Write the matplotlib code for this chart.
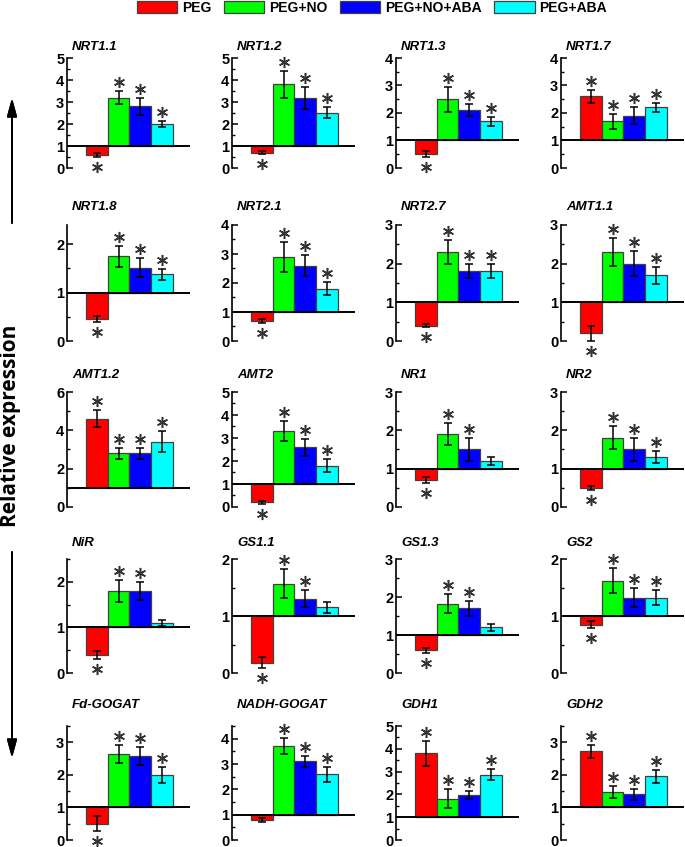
import numpy as np
import matplotlib as mpl
mpl.use('agg')
import matplotlib.pyplot as plt
import matplotlib.transforms as mtransforms
from matplotlib.ticker import MultipleLocator

plt.rcParams['font.family'] = ['Liberation Sans', 'DejaVu Sans']

genes = ['NRT1.1', 'NRT1.2', 'NRT1.3', 'NRT1.7',
         'NRT1.8', 'NRT2.1', 'NRT2.7', 'AMT1.1',
         'AMT1.2', 'AMT2', 'NR1', 'NR2',
         'NiR', 'GS1.1', 'GS1.3', 'GS2',
         'Fd-GOGAT', 'NADH-GOGAT', 'GDH1', 'GDH2']
treatments = ['PEG', 'PEG+NO', 'PEG+NO+ABA', 'PEG+ABA']

peg = [0.6, 0.7, 0.5, 2.6, 0.45, 0.7, 0.4, 0.2, 4.6, 0.2, 0.7, 0.5, 0.4, 0.18, 0.6, 0.85, 0.5, 0.8, 3.8, 2.72]
peg_err = [0.1, 0.07, 0.1, 0.23, 0.06, 0.07, 0.05, 0.2, 0.45, 0.07, 0.08, 0.06, 0.09, 0.1, 0.07, 0.06, 0.23, 0.07, 0.56, 0.2]
peg_no = [3.2, 3.8, 2.5, 1.7, 1.75, 2.9, 2.3, 2.3, 2.8, 3.3, 1.9, 1.8, 1.8, 1.57, 1.82, 1.62, 2.65, 3.72, 1.81, 1.48]
peg_no_err = [0.3, 0.6, 0.45, 0.27, 0.22, 0.52, 0.3, 0.37, 0.3, 0.45, 0.28, 0.3, 0.25, 0.25, 0.25, 0.22, 0.28, 0.32, 0.41, 0.18]
peg_no_aba = [2.8, 3.2, 2.1, 1.9, 1.52, 2.6, 1.8, 2.0, 2.8, 2.6, 1.5, 1.5, 1.8, 1.3, 1.7, 1.32, 2.58, 3.1, 1.99, 1.4]
peg_no_aba_err = [0.38, 0.5, 0.22, 0.3, 0.19, 0.37, 0.18, 0.33, 0.28, 0.37, 0.3, 0.3, 0.2, 0.15, 0.2, 0.17, 0.28, 0.22, 0.18, 0.18]
peg_aba = [2.0, 2.5, 1.7, 2.2, 1.38, 1.8, 1.8, 1.7, 3.4, 1.8, 1.2, 1.3, 1.1, 1.15, 1.2, 1.32, 2.0, 2.6, 2.87, 1.95]
peg_aba_err = [0.12, 0.25, 0.17, 0.18, 0.11, 0.22, 0.18, 0.22, 0.55, 0.27, 0.1, 0.15, 0.06, 0.1, 0.1, 0.13, 0.25, 0.3, 0.26, 0.2]

# 1 = significant (asterisk)
sig_peg = [1, 1, 1, 1, 1, 1, 1, 1, 1, 1, 1, 1, 1, 1, 1, 1, 1, 0, 1, 1]
sig_peg_no = [1] * 20
sig_peg_no_aba = [1] * 20
sig_peg_aba = [1, 1, 1, 1, 1, 1, 1, 1, 1, 1, 0, 1, 0, 0, 0, 1, 1, 1, 1, 1]

ymax = [5, 5, 4, 4, 2.4, 4, 3, 3, 6, 5, 3, 3, 2.5, 2, 3, 2, 3.5, 4.5, 5, 3.5]
ystep = [1, 1, 1, 1, 1, 1, 1, 1, 2, 1, 1, 1, 1, 1, 1, 1, 1, 1, 1, 1]

colors = ['#ff0000', '#00ff00', '#0000ff', '#00ffff']

W, H = 685, 847
fig = plt.figure(figsize=(W / 100, H / 100), dpi=100)

col_x = [67, 232, 396, 561]
rows = [(58, 168), (225, 341), (392, 507), (559, 673), (726, 840)]
title_y = [47, 207, 375, 543, 705]
ax_w = 123

vals = np.array([peg, peg_no, peg_no_aba, peg_aba]).T
errs = np.array([peg_err, peg_no_err, peg_no_aba_err, peg_aba_err]).T
sigs = np.array([sig_peg, sig_peg_no, sig_peg_no_aba, sig_peg_aba]).T
x = np.arange(4)

handles = None
for i, g in enumerate(genes):
    r, c = divmod(i, 4)
    top, bot = rows[r]
    ax = fig.add_axes([col_x[c] / W, 1 - bot / H, ax_w / W, (bot - top) / H])
    bars = ax.bar(x, vals[i] - 1, bottom=1, width=1, color=colors,
                  edgecolor='#404040', linewidth=0.9, zorder=2)
    if handles is None:
        handles = bars.patches
    ax.errorbar(x, vals[i], yerr=errs[i], fmt='none', ecolor='black',
                elinewidth=1.1, capsize=3, capthick=1.1, zorder=4)
    ax.axhline(1, color='black', lw=1.4, zorder=3)

    up = mtransforms.offset_copy(ax.transData, fig=fig, y=9, units='dots')
    dn = mtransforms.offset_copy(ax.transData, fig=fig, y=-10, units='dots')
    for j in range(4):
        if not sigs[i, j]:
            continue
        if vals[i, j] >= 1:
            ax.plot(x[j], vals[i, j] + errs[i, j], marker=(6, 2, 0), ms=8,
                    mew=1.1, color='#333333', transform=up, clip_on=False)
        else:
            ax.plot(x[j], vals[i, j] - errs[i, j], marker=(6, 2, 0), ms=8,
                    mew=1.1, color='#333333', transform=dn, clip_on=False)

    ax.set_xlim(-1.375, -1.375 + ax_w / 21.7)
    ax.set_ylim(0, ymax[i])
    ax.yaxis.set_major_locator(MultipleLocator(ystep[i]))
    ax.yaxis.set_minor_locator(MultipleLocator(ystep[i] / 2))
    for s in ['top', 'right', 'bottom']:
        ax.spines[s].set_visible(False)
    ax.spines['left'].set_linewidth(1.2)
    ax.set_xticks([])
    ax.tick_params(axis='y', which='major', direction='in', length=4, width=1.1,
                   labelsize=10.5, pad=2)
    ax.tick_params(axis='y', which='minor', direction='in', length=2.5, width=1.0)
    for lab in ax.get_yticklabels():
        lab.set_fontweight('bold')
    ax.patch.set_visible(False)

    fig.text((col_x[c] + 5) / W, 1 - title_y[r] / H, g, fontsize=9.5,
             fontweight='bold', fontstyle='italic', ha='left', va='center')

fig.legend(handles, treatments, loc='upper left', ncol=4,
           bbox_to_anchor=(137 / W, 1 - 1 / H), frameon=False,
           prop={'weight': 'bold', 'size': 10}, handlelength=2.9,
           handleheight=0.95, handletextpad=0.35, columnspacing=0.9,
           borderpad=0, borderaxespad=0)

fig.text(11 / W, 1 - 426 / H, 'Relative expression', rotation=90,
         fontsize=15, fontweight='bold', family='Open Sans',
         ha='center', va='center')

arrow = dict(arrowstyle='-|>,head_length=1.1,head_width=0.3',
             mutation_scale=10, lw=1.3, color='black', shrinkA=0, shrinkB=0)
fig.add_artist(plt.annotate('', xy=(12 / W, 1 - 98 / H), xytext=(12 / W, 1 - 223 / H),
                            xycoords='figure fraction', arrowprops=arrow))
fig.add_artist(plt.annotate('', xy=(12 / W, 1 - 758 / H), xytext=(12 / W, 1 - 552 / H),
                            xycoords='figure fraction', arrowprops=arrow))

plt.savefig('out.png', dpi=100)
